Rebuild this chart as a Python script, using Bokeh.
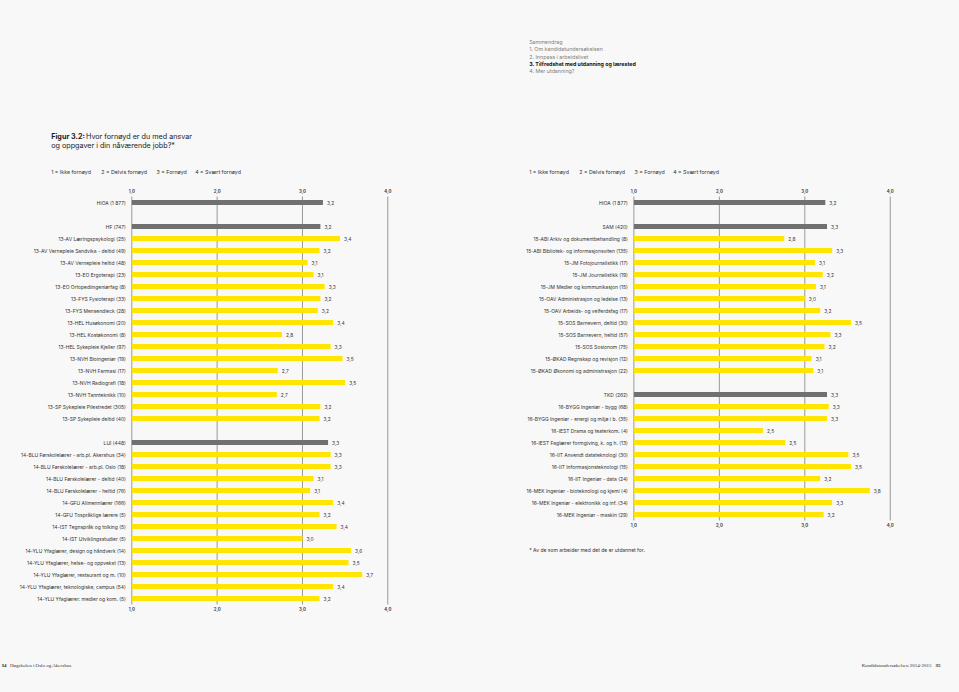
from bokeh.plotting import figure
from bokeh.models import Range1d, Label, ColumnDataSource
from bokeh.embed import file_html
from bokeh.resources import INLINE
from bokeh.core.properties import value

# ---------------- data ----------------
left_names = [
    "HiOA (1 877)", "", "HF (747)",
    "13-AV Læringspsykologi (25)", "13-AV Vernepleie Sandvika - deltid (49)",
    "13-AV Vernepleie heltid (48)", "13-EO Ergoterapi (23)", "13-EO Ortopediingeniørfag (8)",
    "13-FYS Fysioterapi (33)", "13-FYS Mensendieck (28)", "13-HEL Husøkonomi (20)",
    "13-HEL Kostøkonomi (8)", "13-HEL Sykepleie Kjeller (97)", "13-NVH Bioingeniør (19)",
    "13-NVH Farmasi (17)", "13-NVH Radiografi (18)", "13-NVH Tannteknikk (10)",
    "13-SP Sykepleie Pilestredet (305)", "13-SP Sykepleie deltid (40)", "",
    "LUI (448)", "14-BLU Førskolelærer - arb.pl. Akershus (34)",
    "14-BLU Førskolelærer - arb.pl. Oslo (18)", "14-BLU Førskolelærer - deltid (40)",
    "14-BLU Førskolelærer - heltid (76)", "14-GFU Allmennlærer (166)",
    "14-GFU Tospråklige lærere (5)", "14-IST Tegnspråk og tolking (5)",
    "14-IST Utviklingsstudier (5)", "14-YLU Yfaglærer, design og håndverk (14)",
    "14-YLU Yfaglærer, helse- og oppvekst (13)", "14-YLU Yfaglærer, restaurant og m. (10)",
    "14-YLU Yfaglærer, teknologiske, campus (54)", "14-YLU Yfaglærer: medier og kom. (5)",
]
left_values = [3.24, None, 3.21, 3.44, 3.20, 3.06, 3.13, 3.26, 3.21, 3.18, 3.36, 2.76, 3.33,
               3.47, 2.71, 3.50, 2.70, 3.21, 3.20, None, 3.30, 3.33, 3.33, 3.13, 3.09, 3.36,
               3.20, 3.40, 3.00, 3.57, 3.54, 3.70, 3.36, 3.20]
left_labels = ["3,2", "", "3,2", "3,4", "3,2", "3,1", "3,1", "3,3", "3,2", "3,2", "3,4", "2,8",
               "3,3", "3,5", "2,7", "3,5", "2,7", "3,2", "3,2", "", "3,3", "3,3", "3,3", "3,1",
               "3,1", "3,4", "3,2", "3,4", "3,0", "3,6", "3,5", "3,7", "3,4", "3,2"]

right_names = [
    "HiOA (1 877)", "", "SAM (420)",
    "15-ABI Arkiv og dokumentbehandling (8)", "15-ABI Bibliotek- og informasjonsviten (135)",
    "15-JM Fotojournalistikk (17)", "15-JM Journalistikk (19)",
    "15-JM Medier og kommunikasjon (15)", "15-OAV Administrasjon og ledelse (13)",
    "15-OAV Arbeids- og velferdsfag (17)", "15-SOS Barnevern, deltid (30)",
    "15-SOS Barnevern, heltid (57)", "15-SOS Sosionom (75)",
    "15-ØKAD Regnskap og revisjon (12)", "15-ØKAD Økonomi og administrasjon (22)", "",
    "TKD (262)", "16-BYGG Ingeniør - bygg (68)", "16-BYGG Ingeniør - energi og miljø i b. (35)",
    "16-IEST Drama og teaterkom. (4)", "16-IEST Faglærer formgiving, k. og h. (13)",
    "16-IIT Anvendt datateknologi (30)", "16-IIT Informasjonsteknologi (15)",
    "16-IIT Ingeniør - data (24)", "16-MEK Ingeniør - bioteknologi og kjemi (4)",
    "16-MEK Ingeniør - elektronikk og inf. (34)", "16-MEK Ingeniør - maskin (29)",
]
right_values = [3.24, None, 3.26, 2.76, 3.32, 3.12, 3.21, 3.13, 3.00, 3.18, 3.54, 3.30, 3.23,
                3.08, 3.10, None, 3.26, 3.28, 3.26, 2.51, 2.77, 3.51, 3.54, 3.18, 3.76, 3.32, 3.22]
right_labels = ["3,2", "", "3,3", "2,8", "3,3", "3,1", "3,2", "3,1", "3,0", "3,2", "3,5", "3,3",
                "3,2", "3,1", "3,1", "", "3,3", "3,3", "3,3", "2,5", "2,5", "3,5", "3,5", "3,2",
                "3,8", "3,3", "3,2"]

totals = ["HiOA (1 877)", "HF (747)", "LUI (448)", "SAM (420)", "TKD (262)"]
axis_ticks = [1, 2, 3, 4]
legend_items = ["1 = Ikke fornøyd", "2 = Delvis fornøyd", "3 = Fornøyd", "4 = Svært fornøyd"]
toc_items = ["Sammendrag", "1. Om kandidatundersøkelsen", "2. Innpass i arbeidslivet",
             "3. Tilfredshet med utdanning og lærested", "4. Mer utdanning?"]

# ---------------- style / layout ----------------
W, H = 959, 692
YELLOW = "#FFE500"
GREY = "#707070"
BG = "#f8f8f8"
FONT = "Inter"
ROW_PX = 12.0          # pixels per bar row
FIRST_ROW_PX = 202.0   # pixel centre of first row
LEFT_ONE_PX, LEFT_PX_PER_UNIT = 131.3, 85.33
RIGHT_ONE_PX, RIGHT_PX_PER_UNIT = 633.4, 85.45

p = figure(width=W, height=H, output_backend="svg", toolbar_location=None,
           x_range=Range1d(1 - LEFT_ONE_PX / LEFT_PX_PER_UNIT,
                           1 + (W - LEFT_ONE_PX) / LEFT_PX_PER_UNIT),
           y_range=Range1d((H - FIRST_ROW_PX) / ROW_PX, -FIRST_ROW_PX / ROW_PX),
           x_axis_location=None, y_axis_location=None, min_border=0,
           background_fill_color=BG, border_fill_color=BG, outline_line_color=None)
p.extra_x_ranges = {"right": Range1d(1 - RIGHT_ONE_PX / RIGHT_PX_PER_UNIT,
                                     1 + (W - RIGHT_ONE_PX) / RIGHT_PX_PER_UNIT)}
p.grid.visible = False


def draw_chart(names, vals, labs, range_name):
    kw = {"x_range_name": range_name}
    n = len(names)
    # vertical reference lines at the axis ticks
    p.segment(x0=axis_ticks, y0=[-0.5] * len(axis_ticks), x1=axis_ticks,
              y1=[n - 0.5] * len(axis_ticks), line_color="#9a9a9a", line_width=1, **kw)
    keep = [i for i, v in enumerate(vals) if v is not None]
    src = ColumnDataSource(dict(
        row=keep,
        name=[names[i] for i in keep],
        val=[vals[i] for i in keep],
        lab=[labs[i] for i in keep],
        col=[GREY if names[i] in totals else YELLOW for i in keep],
    ))
    p.hbar(y="row", left=1, right="val", height=0.4, fill_color="col",
           line_color=None, source=src, **kw)
    p.text(x="val", y="row", text="lab", x_offset=4, text_baseline="middle",
           text_font=value(FONT), text_font_size="4.8px", text_color="#333333",
           source=src, **kw)
    p.text(x=1, y="row", text="name", x_offset=-6, text_align="right",
           text_baseline="middle", text_font=value(FONT), text_font_size="4.95px",
           text_color="#333333", source=src, **kw)
    tsrc = ColumnDataSource(dict(x=axis_ticks,
                                 t=[f"{t:.1f}".replace(".", ",") for t in axis_ticks]))
    for yv, off in ((-0.5, -6), (n - 0.5, 4)):
        p.text(x="x", y=yv, text="t", y_offset=off, text_align="center",
               text_baseline="middle", text_font=value(FONT), text_font_size="4.3px",
               text_font_style="bold", text_color="#444444", source=tsrc, **kw)


draw_chart(left_names, left_values, left_labels, "default")
draw_chart(right_names, right_values, right_labels, "right")


def add_label(x, y, text, size="5.3px", color="#333333", style="normal",
              font=FONT, align="left"):
    p.add_layout(Label(x=x, y=H - y, x_units="screen", y_units="screen", text=text,
                       text_font=font, text_font_size=size, text_color=color,
                       text_font_style=style, text_baseline="middle", text_align=align))


# left page texts
add_label(50.7, 136, "Figur 3.2:", size="7.2px", color="#1a1a1a", style="bold")
add_label(85.5, 136, "Hvor fornøyd er du med ansvar", size="7.2px", color="#1a1a1a")
add_label(50.7, 145.3, "og oppgaver i din nåværende jobb?*", size="7.2px", color="#1a1a1a")
for dx, t in zip([0, 50, 105.3, 144], legend_items):
    add_label(50.7 + dx, 171, t)
    add_label(528.7 + dx, 171, t)
add_label(1, 665.3, "34", size="5px", color="#1a1a1a", style="bold", font="Liberation Serif")
add_label(9.5, 665.3, "Høgskolen i Oslo og Akershus", size="5px", font="Liberation Serif")

# right page texts
for yy, t in zip([41, 48.7, 56, 63.3, 70.7], toc_items):
    bold = t.startswith("3.")
    add_label(528.7, yy, t, color="#111111" if bold else "#808080",
              style="bold" if bold else "normal")
add_label(528.7, 549.3, "* Av de som arbeider med det de er utdannet for.", size="5px")
add_label(940, 665.3, "35", size="5px", color="#1a1a1a", style="bold",
          font="Liberation Serif", align="right")
add_label(931, 665.3, "Kandidatundersøkelsen 2014-2015", size="5px",
          font="Liberation Serif", align="right")

TEMPLATE = ("{% block postamble %}<style>html, body { margin: 0; padding: 0; "
            "overflow: hidden; background: #f8f8f8; }</style>{% endblock %}")
open("out.html", "w").write(file_html(p, INLINE, title="Figur 3.2", template=TEMPLATE))
